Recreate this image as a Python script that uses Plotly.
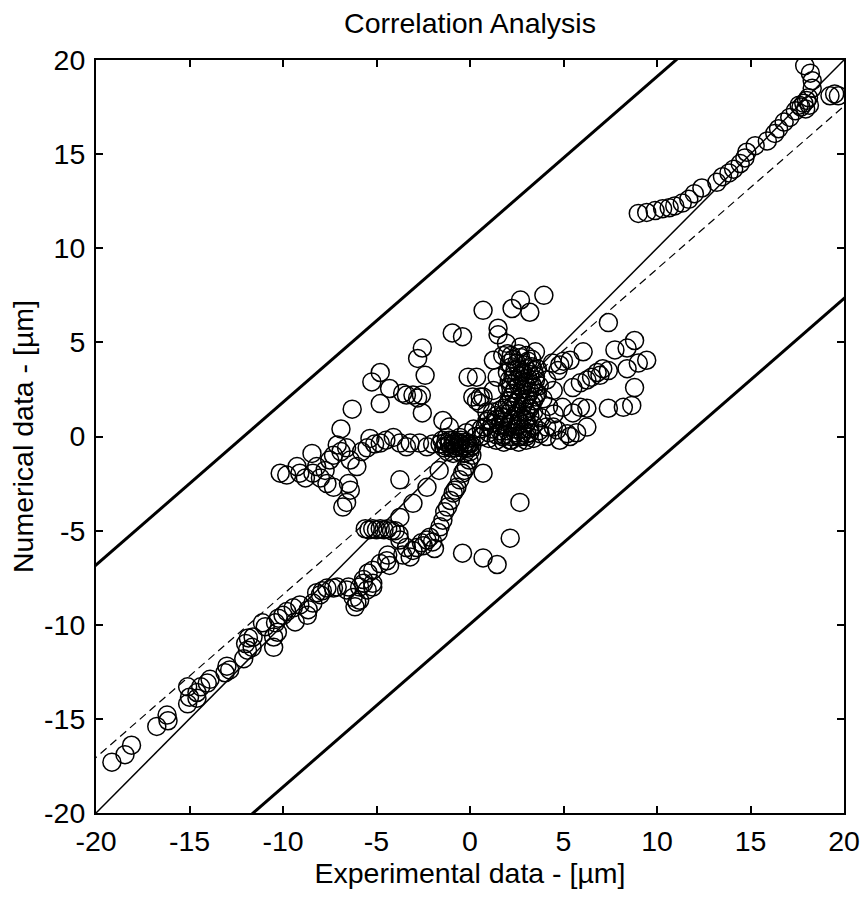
import plotly.graph_objects as go

# ---------------- data ----------------
axis_ticks = [-20, -15, -10, -5, 0, 5, 10, 15, 20]

# regression line and prediction band
fit_slope = 0.865
fit_intercept = 0.25
band_half_width = 10.22

# upper-right arc
arc_x = [9.0, 9.45, 9.9, 10.3, 10.65, 10.95, 11.35, 11.7, 12.0, 12.4, 13.2, 13.5, 13.85, 14.1,
         14.45, 14.7, 14.8, 15.25, 15.9, 16.3, 16.5, 16.8, 17.1, 17.4, 17.6, 17.85, 18.0, 18.1,
         17.9, 18.2, 18.3, 18.3, 19.25, 19.5, 19.7, 17.7, 17.95, 18.15]
arc_y = [11.85, 11.9, 12.0, 12.1, 12.15, 12.25, 12.4, 12.6, 12.9, 13.2, 13.5, 13.8, 14.0, 14.2,
         14.5, 14.8, 15.1, 15.45, 15.7, 16.1, 16.35, 16.7, 16.95, 17.3, 17.6, 17.7, 17.85, 18.0,
         19.7, 19.3, 18.9, 18.5, 18.1, 18.2, 18.1, 17.5, 17.4, 17.6]

# lower-left trend
low_x = [-19.15, -18.45, -18.1, -16.75, -16.2, -16.15, -15.1, -15.0, -15.1, -14.6, -14.6, -14.4,
         -14.05, -13.9, -13.1, -12.85, -13.0, -12.1, -11.9, -12.0, -11.85, -11.6, -11.65, -10.95,
         -10.5, -10.5, -10.3, -10.4, -10.25, -10.0, -9.8, -9.35, -9.45, -9.1, -8.7, -8.65, -8.4,
         -8.2, -7.65, -7.1, -6.5, -6.25, -6.15, -6.05, -5.9, -5.9, -5.5, -5.2, -5.7, -5.45, -5.2,
         -4.8, -4.45, -4.3, -4.4, -7.9, -8.0, -11.1, -7.3, -6.6, -5.7, -5.2]
low_y = [-17.3, -16.9, -16.4, -15.4, -14.8, -15.1, -14.2, -13.85, -13.3, -13.9, -13.6, -13.3,
         -13.1, -12.9, -12.55, -12.4, -12.2, -11.8, -11.35, -11.0, -10.7, -10.65, -11.2, -10.1,
         -11.2, -10.65, -10.4, -9.9, -9.65, -9.5, -9.3, -9.85, -9.1, -8.95, -9.5, -9.2, -8.85,
         -8.3, -8.05, -8.0, -8.0, -8.55, -9.05, -8.8, -8.7, -8.0, -8.15, -7.8, -7.6, -7.25, -7.1,
         -6.75, -6.6, -6.85, -6.3, -8.2, -8.4, -9.9, -8.05, -8.15, -7.8, -8.0]

# horizontal group near (-5,-5) and the curve rising towards the origin
mid_x = [-5.6, -5.4, -5.2, -5.0, -4.8, -4.6, -4.4, -4.2, -4.0, -3.8, -3.75, -3.4, -3.05, -2.85,
         -2.6, -2.3, -2.15, -1.9, -3.6, -3.2, -2.5, -2.0,
         -1.6, -1.45, -1.35, -1.2, -1.05, -0.9, -0.7, -0.55, -0.4, -0.2, -0.05, 0.1, -1.7, -0.8,
         -0.3, -3.75, -3.05, -2.3, -3.75, 0.7, 2.67, 2.15, -0.4, 0.7, 1.45, -1.65]
mid_y = [-4.9, -4.95, -4.9, -4.95, -4.9, -4.95, -4.9, -5.0, -5.0, -5.2, -5.5, -5.9, -6.05, -5.9,
         -5.65, -5.5, -5.35, -5.95, -6.3, -6.4, -5.8, -5.6,
         -4.8, -4.45, -4.0, -3.75, -3.4, -3.0, -2.7, -2.3, -1.95, -1.6, -1.25, -1.0, -5.1, -2.85,
         -1.8, -2.3, -3.55, -2.7, -4.3, -1.95, -3.5, -5.4, -6.2, -6.45, -6.8, -1.8]

# left arm around y = -0.5 ... -3
left_x = [-10.15, -9.8, -9.25, -9.1, -8.8, -8.45, -8.4, -8.2, -8.0, -7.75, -7.65, -7.5, -7.3,
          -7.1, -6.8, -6.6, -6.4, -6.5, -6.4, -6.05, -5.35, -4.8, -4.1, -3.75, -3.4, -2.7, -2.3,
          -2.0, -1.25, -0.9, -0.55, -5.8, -5.5, -5.1, -4.5, -3.2, -7.3, -6.9, -6.6]
left_y = [-1.95, -2.05, -1.6, -1.95, -2.2, -0.9, -1.95, -1.6, -2.2, -1.8, -2.5, -1.25, -2.7,
          -0.45, -3.75, -3.5, -2.85, -2.5, -1.25, -1.6, -0.1, -0.35, -0.05, -0.35, -0.55, -0.35,
          -0.55, -0.4, -0.05, -0.2, -0.05, -0.8, -0.6, -0.4, -0.2, -0.35, -1.0, -0.8, -0.6]

# upper-left / upper-middle scatter
up_x = [-6.3, -6.9, -4.8, -5.25, -4.3, -3.6, -3.05, -2.6, -4.8, -2.55, -2.55, -2.8, -2.4, -3.4,
        -2.8, -0.95, -0.4, 0.7, 1.5, 1.5, 2.25, 2.7, 3.2, 3.95, 7.4, 0.35, 1.75, 2.0, 2.7, 3.5,
        1.25, 1.95, -0.1, 1.45, 1.25, 0.15, 0.55, 0.9, 0.55, 0.35, 0.7, -1.45, -1.1, -0.2, 0.2]
up_y = [1.45, 0.4, 3.4, 2.9, 2.55, 2.3, 2.2, 2.2, 1.75, 1.25, 4.7, 4.15, 3.25, 2.2,
        2.05, 5.5, 5.3, 6.7, 5.75, 5.4, 6.8, 7.25, 6.6, 7.5, 6.05, 3.15, 4.3, 4.4, 4.75, 4.5,
        4.05, 4.95, 3.15, 3.15, 2.45, 2.1, 1.75, 1.3, 2.1, 1.9, 2.1, 0.85, 0.5, 0.2, 0.4]

# right-hand spread
right_x = [8.8, 8.4, 7.75, 9.45, 9.0, 8.4, 8.8, 8.65, 8.2, 7.4, 6.05, 5.35, 4.8, 7.1, 6.8, 6.5,
           6.25, 5.9, 5.5, 6.25, 5.9, 5.5, 6.25, 5.7, 5.35, 4.8, 4.1, 4.45, 4.95, 4.45, 4.1, 4.4,
           5.0, 4.7, 7.4, 6.95, 3.75, 3.05, 2.7, 2.15, 1.75, 5.2, 4.65]
right_y = [5.1, 4.7, 4.6, 4.05, 3.9, 3.6, 2.6, 1.65, 1.55, 1.5, 4.5, 4.05, 3.8, 3.6, 3.4, 3.15,
           3.0, 2.85, 2.6, 1.5, 1.55, 1.25, 0.5, 0.2, 0.0, -0.2, 0.0, 0.5, 1.55, 2.45, 3.0, 3.9,
           4.0, 3.5, 3.5, 3.25, 0.15, 0.15, 0.0, -0.2, 0.0, 0.15, 0.35]

# dense central cluster (tower, lower block, V-bottom)
core_x = [2.2, 2.6, 3.0, 3.3, 2.1, 2.5, 2.9, 3.3, 3.6, 2.0, 2.4, 2.8, 3.2, 3.5, 2.1, 2.5, 2.9,
          3.3, 3.7, 2.0, 2.4, 2.8, 3.2, 3.6, 2.2, 2.6, 3.0, 3.4, 2.0, 2.4, 2.8, 3.2,
          2.3, 2.7, 3.1, 2.2, 2.6, 3.0, 3.4, 2.3, 2.7, 3.1, 3.5, 2.2, 2.6, 3.0, 3.4, 2.3, 2.7,
          3.1, 3.5, 2.1, 2.5, 2.9, 3.3, 1.8, 2.2, 2.6, 3.0, 3.4,
          1.2, 1.6, 2.0, 2.4, 2.8, 3.2, 1.0, 1.4, 1.8, 2.2, 2.6, 3.0, 3.4, 0.8, 1.2, 1.6, 2.0,
          2.4, 2.8, 3.2, 0.6, 1.0, 1.4, 1.8, 2.2, 2.6, 3.0, 3.4,
          1.4, 1.8, 2.2, 2.6, 3.0, 1.2, 1.6, 2.0, 2.4, 2.8, 3.2, 1.0, 1.4, 1.8, 2.2, 2.6, 3.0,
          3.9, 4.2, 4.5, 3.8, 4.1, 3.7,
          -1.6, -1.3, -1.0, -0.7, -0.4, -0.1, -1.5, -1.1, -0.8, -0.5, -0.2, 0.1, -1.2, -0.9,
          -0.6, -0.3, 0.0, 0.0, 0.3, 0.6, 0.9,
          -1.4, -1.1, -0.8, -0.5, -0.2, -1.3, -0.9, -0.6, -0.3, 0.0]
core_y = [4.3, 4.4, 4.3, 4.1, 3.9, 3.9, 3.8, 3.7, 3.6, 3.4, 3.5, 3.4, 3.3, 3.2, 3.0, 3.0, 2.9,
          2.8, 2.7, 2.6, 2.5, 2.5, 2.4, 2.3, 2.1, 2.0, 2.0, 1.9, 1.7, 1.6, 1.6, 1.5,
          4.1, 4.2, 4.0, 3.7, 3.6, 3.6, 3.5, 3.2, 3.2, 3.1, 3.0, 2.8, 2.7, 2.7, 2.6, 2.3, 2.3,
          2.2, 2.1, 1.9, 1.8, 1.8, 1.7, 1.5, 1.4, 1.3, 1.3, 1.3,
          1.3, 1.4, 1.2, 1.1, 1.0, 1.1, 0.9, 0.9, 0.8, 0.7, 0.6, 0.7, 0.6, 0.5, 0.4, 0.3, 0.3,
          0.2, 0.2, 0.2, 0.0, -0.1, -0.2, -0.3, -0.2, -0.3, -0.2, -0.1,
          1.1, 1.0, 0.9, 0.8, 0.9, 0.7, 0.6, 0.5, 0.4, 0.4, 0.4, 0.2, 0.1, 0.1, 0.0, 0.0, 0.0,
          2.0, 1.6, 1.2, 1.0, 0.5, 0.3,
          -0.4, -0.5, -0.6, -0.5, -0.6, -0.4, -0.2, -0.2, -0.3, -0.2, -0.3, -0.5, -0.8, -0.9,
          -0.8, -0.9, -0.8, -0.4, 0.0, 0.4, 0.8,
          -0.6, -0.4, -0.6, -0.4, -0.6, -0.3, -0.4, -0.3, -0.5, -0.6]

# ---------------- figure ----------------
exp_x = arc_x + low_x + mid_x + left_x + up_x + right_x + core_x
num_y = arc_y + low_y + mid_y + left_y + up_y + right_y + core_y

FONT = "Liberation Sans, Arial, sans-serif"
FSIZE = 28.5
rng = [axis_ticks[0], axis_ticks[-1]]
line_x = [rng[0] - 5, rng[1] + 5]
fit_y = [fit_slope * v + fit_intercept for v in line_x]
upper_y = [v + band_half_width for v in fit_y]
lower_y = [v - band_half_width for v in fit_y]

fig = go.Figure()
fig.add_trace(go.Scatter(x=exp_x, y=num_y, mode="markers",
                         marker=dict(symbol="circle-open", size=18, color="black",
                                     line=dict(width=1.5, color="black")),
                         showlegend=False, cliponaxis=True))
fig.add_trace(go.Scatter(x=line_x, y=line_x, mode="lines",
                         line=dict(color="black", width=1.5), showlegend=False))
fig.add_trace(go.Scatter(x=line_x, y=fit_y, mode="lines",
                         line=dict(color="black", width=1.2, dash="8px,5px"), showlegend=False))
fig.add_trace(go.Scatter(x=line_x, y=upper_y, mode="lines",
                         line=dict(color="black", width=3), showlegend=False))
fig.add_trace(go.Scatter(x=line_x, y=lower_y, mode="lines",
                         line=dict(color="black", width=3), showlegend=False))

axis_common = dict(range=rng, tickvals=axis_ticks, ticktext=[str(t) for t in axis_ticks],
                   ticks="inside", ticklen=7, tickwidth=1.5, tickcolor="black",
                   showline=True, linewidth=2, linecolor="black", mirror="ticks",
                   showgrid=False, zeroline=False, automargin=False,
                   tickfont=dict(family=FONT, size=FSIZE, color="black"))

fig.update_layout(
    width=864, height=897,
    margin=dict(l=96, r=20, t=60, b=84, autoexpand=False),
    paper_bgcolor="white", plot_bgcolor="white",
    title=dict(text="Correlation Analysis", x=0.544, xanchor="center",
               y=1 - 23 / 897, yanchor="middle", yref="container",
               font=dict(family=FONT, size=FSIZE, color="black")),
    xaxis=dict(**axis_common, ticklabelstandoff=2,
               title=dict(text="Experimental data - [µm]", standoff=2,
                          font=dict(family=FONT, size=FSIZE, color="black"))),
    yaxis=dict(**axis_common, ticklabelstandoff=3,
               title=dict(text="Numerical data - [µm]", standoff=2,
                          font=dict(family=FONT, size=FSIZE, color="black"))),
)

fig.write_html("out.html")
